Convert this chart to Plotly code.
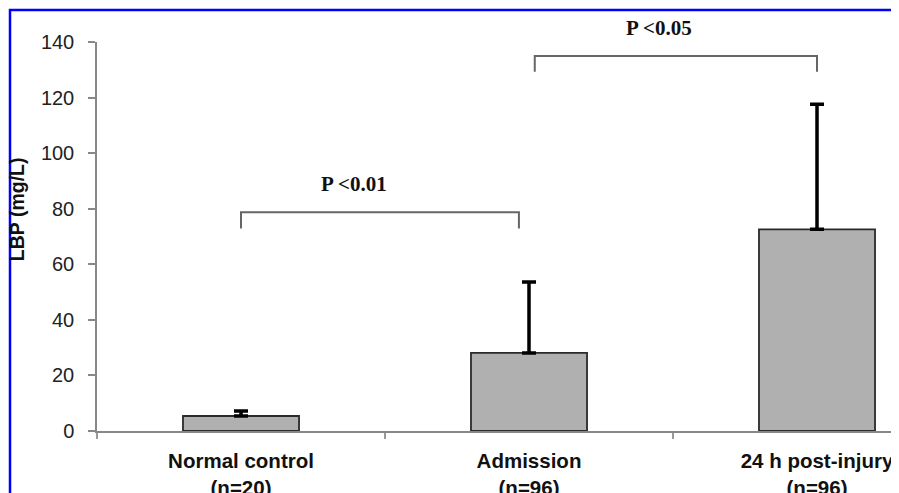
import plotly.graph_objects as go

categories = ["Normal control<br>(n=20)", "Admission<br>(n=96)", "24 h post-injury<br>(n=96)"]
means = [5.4, 28.1, 72.6]
sd_upper = [1.8, 25.5, 45.0]
y_ticks = [0, 20, 40, 60, 80, 100, 120, 140]

# significance brackets
bracket_x0 = [0.0, 1.02]
bracket_x1 = [0.965, 2.0]
bracket_top = [78.7, 135.0]
bracket_bottom = [72.9, 129.3]
bracket_labels = ["P <0.01", "P <0.05"]
label_x = [0.392, 1.451]
label_y = [88.9, 145.0]

# page body has an 8px margin: figure drawn from (8, 8) on screen
OFF = 8
W, H = 899 - OFF, 493 - OFF
L, T = 97 - OFF, 42 - OFF
plot_bottom = 430.7 - OFF
B = H - plot_bottom
plot_h = plot_bottom - T
plot_w = W - L
cat_px = 288.0
x_max = -0.5 + plot_w / cat_px
y_max = 140.0


def py(v):
    """data y -> paper y (allows values above axis range)"""
    return v / y_max


x = list(range(len(categories)))

fig = go.Figure()
fig.add_trace(go.Bar(
    x=x, y=means,
    marker=dict(color="#b0b0b0", line=dict(color="#2a2a2a", width=1.8)),
    error_y=dict(type="data", symmetric=False, array=sd_upper,
                 arrayminus=[0] * len(means), color="#000000",
                 thickness=3.5, width=7),
    width=0.403,
    showlegend=False,
))

shapes = []
for x0, x1, yt, yb in zip(bracket_x0, bracket_x1, bracket_top, bracket_bottom):
    shapes.append(dict(type="path", xref="x", yref="y",
                       path=f"M {x0},{yb} L {x0},{yt} L {x1},{yt} L {x1},{yb}",
                       line=dict(color="#666666", width=2)))
# blue frame (left and top edges visible)
shapes.append(dict(type="rect", xref="paper", yref="paper",
                   x0=(10 - OFF - L) / plot_w, x1=1.3,
                   y0=-0.5, y1=(plot_bottom - (10 - OFF)) / plot_h,
                   line=dict(color="#0000ff", width=2.5),
                   fillcolor="rgba(0,0,0,0)", layer="above"))

annotations = []
for lx, ly, txt in zip(label_x, label_y, bracket_labels):
    annotations.append(dict(x=lx, y=py(ly), xref="x", yref="paper", text=f"<b>{txt}</b>",
                            showarrow=False,
                            font=dict(family="Liberation Serif", size=21, color="#111111"),
                            xanchor="center", yanchor="middle"))
annotations.append(dict(x=(17 - OFF - L) / plot_w, y=(plot_bottom - (209 - OFF)) / plot_h,
                        xref="paper", yref="paper", text="<b>LBP (mg/L)</b>",
                        textangle=-90, showarrow=False,
                        font=dict(family="Liberation Sans", size=19.5, color="#111111"),
                        xanchor="center", yanchor="middle"))

fig.update_layout(
    width=W, height=H,
    margin=dict(l=L, r=0, t=T, b=B, pad=0, autoexpand=False),
    paper_bgcolor="white", plot_bgcolor="white",
    shapes=shapes, annotations=annotations,
    xaxis=dict(range=[-0.5, x_max], tickvals=x, ticktext=[f"<b>{c}</b>" for c in categories],
               ticks="", showline=True, linecolor="#888888", linewidth=1.5,
               showgrid=False, zeroline=False, automargin=False,
               tickfont=dict(family="Liberation Sans", size=20.5, color="#111111"),
               minor=dict(tick0=0.5, dtick=1, ticks="outside", ticklen=6,
                          tickcolor="#999999", tickwidth=1.5, showgrid=False),
               ticklabelstandoff=11),
    yaxis=dict(range=[0, y_max], tickvals=y_ticks, ticks="outside", ticklen=7,
               tickcolor="#888888", tickwidth=1.5,
               showline=True, linecolor="#888888", linewidth=1.5,
               showgrid=False, zeroline=False, automargin=False,
               tickfont=dict(family="Liberation Sans", size=20, color="#222222"),
               ticklabelstandoff=10),
)

fig.write_html("out.html")
